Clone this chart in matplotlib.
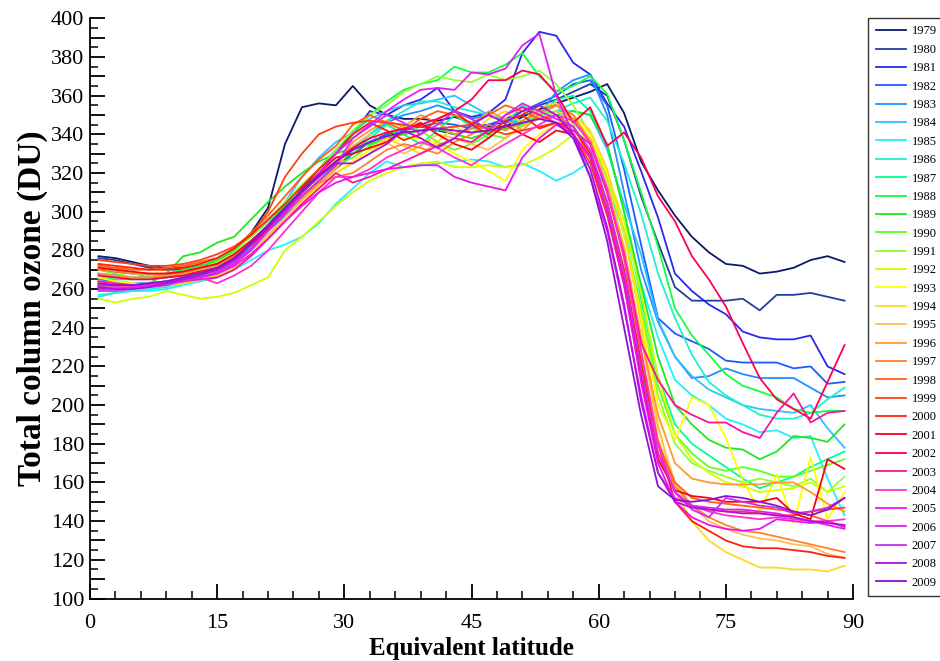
import matplotlib
matplotlib.use("Agg")
import matplotlib.pyplot as plt
from matplotlib.ticker import MultipleLocator, FuncFormatter

plt.rcParams['font.family'] = ['Liberation Serif', 'DejaVu Serif']

# equivalent latitude grid (degrees)
lats = [1, 3, 5, 7, 9, 11, 13, 15, 17, 19, 21, 23, 25, 27, 29, 31, 33, 35, 37, 39, 41, 43, 45,
        47, 49, 51, 53, 55, 57, 59, 61, 63, 65, 67, 69, 71, 73, 75, 77, 79, 81, 83, 85, 87, 89]

# total column ozone (DU), one list per year
oz_1979 = [277, 276, 274, 272, 271, 271, 272, 274, 280, 289, 302, 335, 354, 356, 355, 365, 355, 350, 348, 348, 347, 349, 346,
           344, 344, 349, 353, 356, 359, 362, 366, 351, 326, 311, 298, 287, 279, 273, 272, 268, 269, 271, 275, 277, 274]
oz_1980 = [276, 275, 273, 271, 270, 270, 271, 273, 277, 284, 292, 300, 308, 316, 324, 330, 336, 340, 343, 344, 342, 340, 343,
           345, 346, 350, 355, 358, 362, 366, 360, 337, 308, 284, 261, 254, 254, 254, 255, 249, 257, 257, 258, 256, 254]
oz_1981 = [270, 269, 268, 267, 267, 268, 269, 271, 276, 283, 292, 301, 312, 322, 332, 340, 352, 350, 355, 358, 364, 352, 349,
           351, 358, 382, 393, 391, 377, 371, 356, 344, 321, 297, 268, 259, 252, 247, 238, 235, 234, 234, 236, 220, 216]
oz_1982 = [268, 267, 266, 266, 266, 267, 268, 270, 275, 282, 290, 298, 306, 314, 322, 330, 336, 340, 342, 344, 346, 345, 343,
           345, 348, 352, 356, 360, 366, 368, 355, 322, 283, 245, 237, 233, 229, 223, 222, 222, 222, 219, 220, 211, 212]
oz_1983 = [265, 264, 263, 263, 264, 265, 266, 268, 273, 280, 288, 296, 305, 314, 323, 332, 340, 346, 350, 352, 355, 352, 348,
           350, 347, 345, 350, 362, 368, 371, 350, 310, 270, 243, 225, 214, 215, 219, 216, 214, 214, 214, 209, 204, 205]
oz_1984 = [262, 261, 261, 261, 262, 263, 265, 267, 272, 282, 293, 305, 318, 328, 336, 341, 348, 352, 355, 356, 358, 360, 355,
           350, 347, 346, 348, 352, 352, 350, 332, 304, 278, 244, 225, 215, 208, 204, 200, 198, 197, 196, 200, 188, 178]
oz_1985 = [257, 258, 259, 259, 260, 262, 264, 266, 270, 275, 280, 283, 287, 294, 304, 312, 320, 326, 323, 324, 325, 326, 327,
           326, 323, 325, 321, 316, 320, 326, 312, 290, 263, 235, 213, 205, 200, 193, 190, 186, 187, 183, 184, 162, 143]
oz_1986 = [256, 258, 259, 260, 261, 263, 265, 268, 273, 280, 288, 297, 306, 316, 325, 333, 340, 347, 352, 357, 357, 354, 352,
           350, 348, 347, 350, 352, 356, 359, 347, 325, 299, 268, 245, 226, 212, 205, 200, 195, 193, 193, 196, 203, 209]
oz_1987 = [262, 262, 262, 263, 264, 266, 268, 271, 276, 283, 292, 301, 310, 318, 326, 330, 338, 345, 340, 335, 342, 350, 344,
           338, 345, 355, 350, 358, 360, 352, 335, 300, 255, 215, 190, 180, 174, 168, 162, 157, 160, 163, 168, 172, 176]
oz_1988 = [266, 265, 265, 266, 268, 270, 272, 275, 280, 287, 295, 303, 311, 320, 330, 340, 350, 357, 363, 366, 368, 375, 372,
           372, 376, 382, 370, 362, 365, 370, 361, 337, 310, 282, 250, 236, 226, 216, 210, 207, 204, 198, 196, 197, 197]
oz_1989 = [262, 261, 261, 263, 268, 277, 279, 284, 287, 296, 305, 313, 320, 326, 330, 333, 335, 338, 340, 342, 343, 340, 338,
           341, 343, 345, 348, 350, 352, 350, 335, 300, 262, 225, 200, 190, 182, 178, 177, 172, 176, 184, 183, 181, 190]
oz_1990 = [270, 268, 266, 265, 266, 268, 270, 273, 277, 284, 292, 300, 308, 316, 324, 328, 334, 338, 345, 342, 336, 332, 335,
           340, 338, 345, 350, 352, 346, 336, 318, 290, 250, 210, 185, 175, 168, 166, 168, 166, 163, 163, 166, 169, 172]
oz_1991 = [272, 270, 268, 267, 268, 269, 271, 274, 279, 287, 296, 305, 314, 322, 332, 342, 350, 355, 362, 366, 370, 368, 367,
           371, 368, 370, 373, 366, 355, 340, 318, 288, 248, 205, 180, 170, 166, 163, 160, 162, 160, 158, 162, 155, 163]
oz_1992 = [255, 253, 255, 256, 259, 257, 255, 256, 258, 262, 266, 280, 287, 295, 303, 310, 316, 320, 323, 325, 326, 323, 323,
           324, 323, 324, 328, 333, 340, 338, 320, 295, 258, 215, 185, 172, 165, 160, 158, 155, 156, 157, 160, 155, 158]
oz_1993 = [266, 264, 263, 262, 262, 263, 265, 268, 272, 278, 287, 296, 305, 313, 320, 326, 332, 336, 338, 338, 335, 330, 326,
           321, 316, 332, 340, 345, 348, 340, 320, 290, 245, 200, 182, 204, 200, 183, 161, 145, 164, 139, 173, 141, 155]
oz_1994 = [263, 262, 261, 261, 262, 263, 265, 267, 271, 278, 286, 295, 304, 312, 320, 325, 330, 338, 334, 330, 336, 344, 340,
           348, 352, 346, 354, 356, 350, 342, 322, 290, 242, 190, 155, 140, 130, 124, 120, 116, 116, 115, 115, 114, 117]
oz_1995 = [264, 263, 262, 262, 263, 264, 266, 269, 273, 280, 288, 297, 306, 314, 322, 334, 340, 336, 330, 334, 340, 338, 335,
           332, 338, 344, 348, 352, 348, 338, 315, 282, 235, 188, 160, 148, 140, 136, 133, 131, 130, 128, 127, 123, 121]
oz_1996 = [268, 267, 266, 266, 267, 268, 270, 272, 276, 283, 291, 299, 307, 315, 323, 336, 342, 347, 344, 350, 346, 340, 343,
           352, 348, 342, 350, 355, 348, 335, 312, 280, 235, 195, 170, 162, 160, 159, 159, 159, 160, 160, 155, 149, 145]
oz_1997 = [270, 269, 268, 268, 268, 269, 271, 273, 277, 284, 292, 300, 309, 315, 318, 320, 326, 332, 335, 333, 330, 336, 340,
           345, 342, 347, 352, 355, 350, 336, 310, 276, 228, 182, 158, 148, 142, 138, 135, 134, 132, 130, 128, 126, 124]
oz_1998 = [272, 271, 270, 270, 271, 272, 274, 276, 281, 289, 298, 308, 318, 327, 334, 345, 350, 346, 342, 348, 352, 350, 346,
           350, 355, 352, 348, 350, 344, 328, 302, 268, 222, 180, 160, 152, 150, 149, 148, 147, 146, 145, 143, 140, 137]
oz_1999 = [275, 274, 273, 272, 272, 273, 275, 278, 282, 288, 300, 318, 330, 340, 344, 346, 347, 346, 345, 344, 343, 344, 345,
           343, 340, 342, 344, 346, 340, 325, 298, 262, 215, 175, 155, 148, 146, 145, 145, 144, 143, 143, 145, 146, 147]
oz_2000 = [273, 272, 271, 270, 270, 271, 273, 276, 281, 288, 296, 304, 313, 322, 330, 340, 346, 342, 337, 340, 348, 352, 345,
           340, 347, 350, 343, 346, 344, 330, 305, 270, 222, 180, 150, 140, 135, 130, 127, 126, 126, 125, 124, 122, 121]
oz_2001 = [271, 270, 269, 268, 268, 269, 271, 273, 278, 285, 293, 302, 311, 320, 328, 330, 333, 336, 342, 346, 340, 335, 332,
           338, 345, 340, 336, 342, 340, 328, 300, 264, 215, 172, 156, 153, 152, 150, 150, 150, 152, 144, 141, 172, 167]
oz_2002 = [267, 266, 265, 265, 266, 267, 269, 271, 276, 283, 291, 300, 310, 318, 326, 333, 338, 341, 343, 345, 348, 352, 358,
           368, 368, 373, 371, 361, 346, 354, 334, 341, 328, 308, 295, 277, 265, 251, 232, 214, 203, 198, 193, 212, 231]
oz_2003 = [264, 263, 262, 262, 263, 264, 265, 266, 270, 277, 286, 295, 304, 312, 320, 315, 318, 322, 326, 330, 334, 338, 336,
           342, 350, 354, 350, 346, 342, 335, 310, 278, 232, 213, 200, 195, 191, 191, 186, 183, 196, 206, 191, 196, 197]
oz_2004 = [261, 261, 261, 262, 263, 266, 266, 263, 267, 272, 280, 290, 300, 310, 318, 318, 322, 328, 332, 336, 333, 328, 324,
           330, 335, 340, 345, 350, 347, 336, 312, 276, 228, 180, 155, 148, 145, 143, 142, 141, 142, 141, 140, 140, 141]
oz_2005 = [262, 262, 262, 263, 264, 265, 266, 268, 272, 278, 286, 295, 303, 310, 315, 318, 320, 322, 323, 324, 324, 318, 315,
           313, 311, 328, 338, 345, 340, 328, 300, 262, 212, 170, 150, 142, 138, 136, 135, 136, 141, 140, 139, 140, 137]
oz_2006 = [260, 260, 261, 262, 263, 264, 266, 268, 273, 280, 290, 300, 310, 320, 330, 338, 345, 352, 358, 363, 364, 363, 372,
           371, 374, 386, 392, 360, 340, 318, 290, 250, 205, 165, 152, 148, 147, 146, 146, 145, 144, 142, 140, 138, 136]
oz_2007 = [259, 259, 260, 261, 262, 264, 266, 269, 274, 281, 290, 299, 308, 316, 324, 338, 344, 350, 346, 340, 345, 352, 348,
           342, 350, 356, 352, 348, 344, 332, 305, 268, 218, 175, 155, 146, 142, 152, 150, 148, 147, 144, 145, 147, 152]
oz_2008 = [261, 260, 260, 261, 263, 265, 267, 270, 275, 283, 292, 301, 310, 318, 325, 325, 330, 335, 342, 338, 333, 338, 345,
           350, 346, 352, 355, 350, 340, 322, 292, 252, 202, 165, 150, 147, 146, 145, 144, 144, 143, 142, 140, 139, 138]
oz_2009 = [263, 262, 262, 263, 264, 266, 268, 271, 276, 284, 293, 302, 311, 319, 326, 332, 336, 339, 341, 342, 343, 342, 341,
           342, 344, 346, 348, 346, 338, 318, 285, 240, 195, 158, 151, 150, 151, 153, 152, 150, 148, 145, 143, 146, 152]

years = list(range(1979, 2010))
series = [oz_1979, oz_1980, oz_1981, oz_1982, oz_1983, oz_1984, oz_1985, oz_1986, oz_1987, oz_1988,
          oz_1989, oz_1990, oz_1991, oz_1992, oz_1993, oz_1994, oz_1995, oz_1996, oz_1997, oz_1998,
          oz_1999, oz_2000, oz_2001, oz_2002, oz_2003, oz_2004, oz_2005, oz_2006, oz_2007, oz_2008, oz_2009]
colors = ['#0a1a6a', '#2040a0', '#2828f0', '#1c5cff', '#1e90ff', '#30c0ff', '#20f0ff', '#20f0d0',
          '#00ff90', '#10ff40', '#20e820', '#60ff20', '#90ff30', '#d0ff00', '#ffff00', '#ffd820',
          '#ffc050', '#ff9830', '#ff8030', '#ff6010', '#ff4010', '#ff2010', '#ff0010', '#ff0050',
          '#ff10a0', '#ff30d0', '#f010f0', '#e020f0', '#c830f0', '#b010e0', '#9010d0']

fig = plt.figure(figsize=(9.4, 6.61), dpi=100)
ax = fig.add_axes([90 / 940, 62.5 / 661, 763 / 940, 580.2 / 661])

for yr, vals, col in zip(years, series, colors):
    ax.plot(lats, vals, color=col, lw=1.3, label=str(yr))

ax.set_xlim(0, 90)
ax.set_ylim(100, 400)
ax.spines['top'].set_visible(False)
ax.spines['right'].set_visible(False)
for s in ('left', 'bottom'):
    ax.spines[s].set_linewidth(1.3)

ax.xaxis.set_major_locator(MultipleLocator(15))
ax.xaxis.set_minor_locator(MultipleLocator(3))
ax.yaxis.set_major_locator(MultipleLocator(10))
ax.yaxis.set_minor_locator(MultipleLocator(5))
ax.yaxis.set_major_formatter(FuncFormatter(lambda v, p: '%d' % v if int(round(v)) % 20 == 0 else ''))
ax.tick_params(which='major', direction='in', length=11, width=1.3, labelsize=16)
ax.tick_params(which='minor', direction='in', length=6, width=1.1)
ax.tick_params(axis='x', pad=11)
ax.tick_params(axis='y', pad=4)

ax.set_xlabel('Equivalent latitude', fontsize=18, fontweight='bold', labelpad=3)
ax.set_ylabel('Total column ozone (DU)', fontsize=24, fontweight='bold', labelpad=2)

leg = fig.legend(loc='upper left', bbox_to_anchor=(868 / 940, 1 - 18 / 661), fontsize=9,
                 frameon=True, fancybox=False, edgecolor='black', handlelength=2.4,
                 handletextpad=0.5, labelspacing=0.51, borderpad=0.6, borderaxespad=0)
leg.get_frame().set_linewidth(1.0)

plt.savefig('out.png', dpi=100)
